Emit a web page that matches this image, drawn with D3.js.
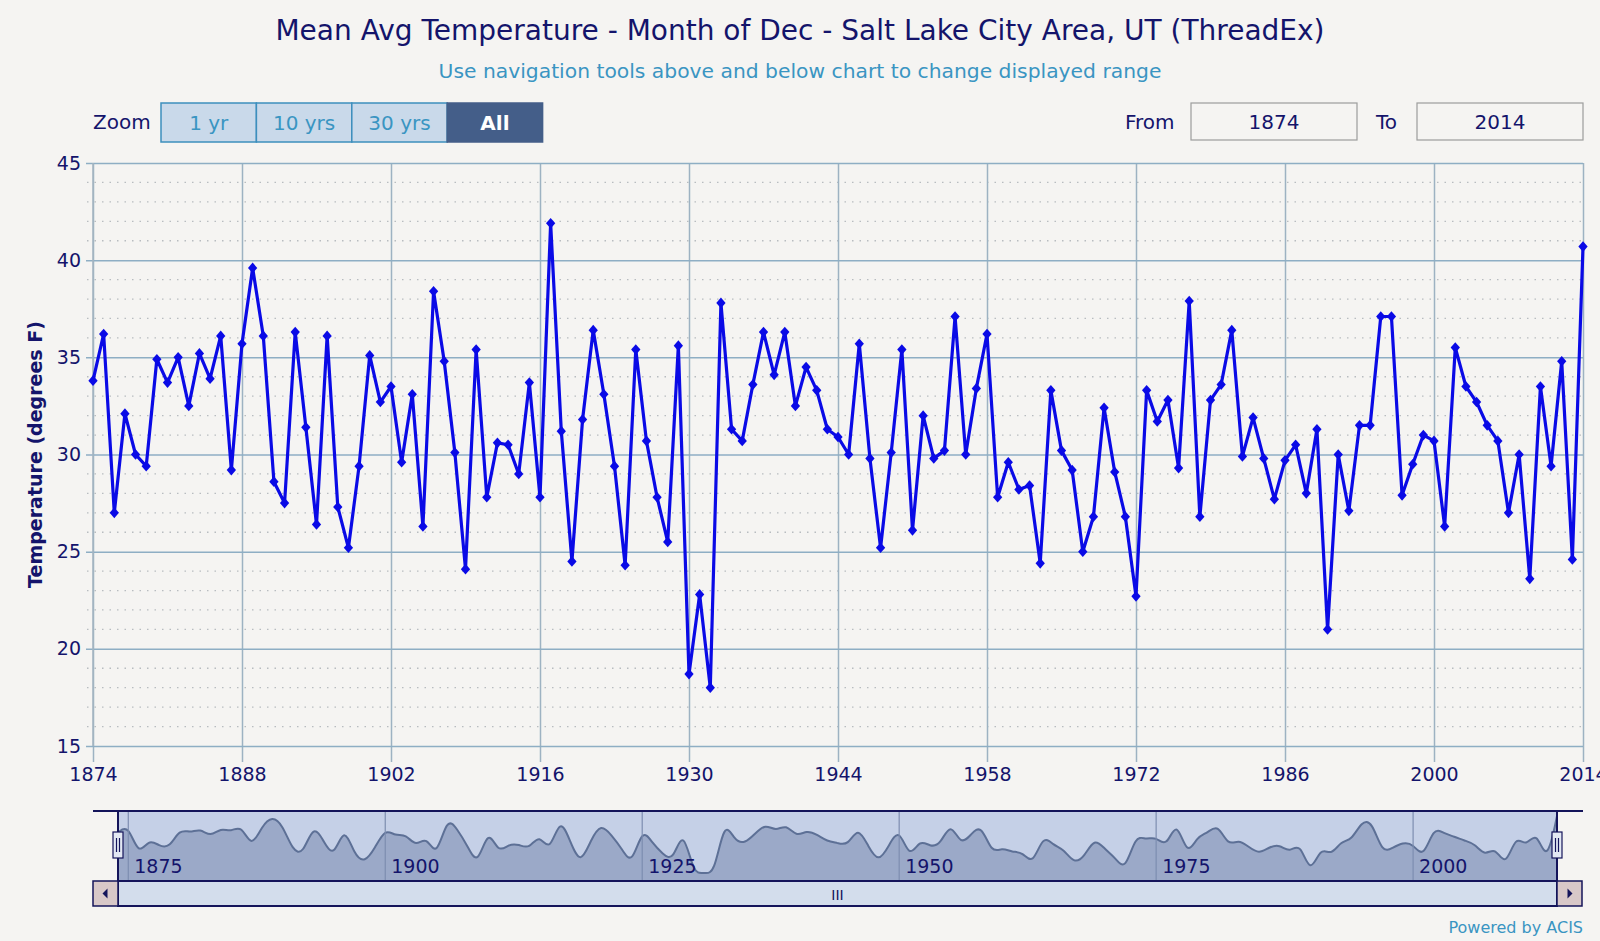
<!DOCTYPE html>
<html>
<head>
<meta charset="utf-8">
<script src="https://cdn.jsdelivr.net/npm/d3@7"></script>
<style>
  html, body { margin: 0; padding: 0; background: #f5f4f2; }
  svg { display: block; font-family: "DejaVu Sans", sans-serif; }
</style>
</head>
<body>
<script>
// Mean Avg Temperature, December, Salt Lake City (ThreadEx) - stock-style chart

const firstYear = 1874;
const lastYear = 2014;
const years = d3.range(firstYear, lastYear + 1);

// degrees F, one per year 1874..2014
const temps = [
  33.8, 36.2, 27.0, 32.1, 30.0, 29.4, 34.9, 33.7, 35.0, 32.5,
  35.2, 33.9, 36.1, 29.2, 35.7, 39.6, 36.1, 28.6, 27.5, 36.3,
  31.4, 26.4, 36.1, 27.3, 25.2, 29.4, 35.1, 32.7, 33.5, 29.6,
  33.1, 26.3, 38.4, 34.8, 30.1, 24.1, 35.4, 27.8, 30.6, 30.5,
  29.0, 33.7, 27.8, 41.9, 31.2, 24.5, 31.8, 36.4, 33.1, 29.4,
  24.3, 35.4, 30.7, 27.8, 25.5, 35.6, 18.7, 22.8, 18.0, 37.8,
  31.3, 30.7, 33.6, 36.3, 34.1, 36.3, 32.5, 34.5, 33.3, 31.3,
  30.9, 30.0, 35.7, 29.8, 25.2, 30.1, 35.4, 26.1, 32.0, 29.8,
  30.2, 37.1, 30.0, 33.4, 36.2, 27.8, 29.6, 28.2, 28.4, 24.4,
  33.3, 30.2, 29.2, 25.0, 26.8, 32.4, 29.1, 26.8, 22.7, 33.3,
  31.7, 32.8, 29.3, 37.9, 26.8, 32.8, 33.6, 36.4, 29.9, 31.9,
  29.8, 27.7, 29.7, 30.5, 28.0, 31.3, 21.0, 30.0, 27.1, 31.5,
  31.5, 37.1, 37.1, 27.9, 29.5, 31.0, 30.7, 26.3, 35.5, 33.5,
  32.7, 31.5, 30.7, 27.0, 30.0, 23.6, 33.5, 29.4, 34.8, 24.6,
  40.7
];

const xTicks = d3.range(1874, 2015, 14);
const yTicks = d3.range(15, 46, 5);
const yMinorTicks = d3.range(15, 46, 1);
const navTicks = [1875, 1900, 1925, 1950, 1975, 2000];
const zoomButtons = ["1 yr", "10 yrs", "30 yrs", "All"];

const data = years.map((yr, i) => ({ year: yr, value: temps[i] }));

const W = 1600, H = 941;
const plot = { left: 93, right: 1583, top: 163, bottom: 746 };
const navBox = { left: 118, right: 1557, top: 811, bottom: 881 };

const navy = "#14146b";
const teal = "#3a95c2";

const svg = d3.select("body").append("svg").attr("width", W).attr("height", H);

svg.append("rect").attr("width", W).attr("height", H).attr("fill", "#f5f4f2");

// titles
svg.append("text")
  .attr("x", 800).attr("y", 40)
  .attr("text-anchor", "middle")
  .attr("font-size", "28px")
  .attr("fill", navy)
  .text("Mean Avg Temperature - Month of Dec - Salt Lake City Area, UT (ThreadEx)");

svg.append("text")
  .attr("x", 800).attr("y", 78)
  .attr("text-anchor", "middle")
  .attr("font-size", "20.3px")
  .attr("fill", teal)
  .text("Use navigation tools above and below chart to change displayed range");

// range selector
svg.append("text")
  .attr("x", 93).attr("y", 129)
  .attr("font-size", "20px")
  .attr("fill", navy)
  .text("Zoom");

const btnW = 95.4;
const btns = svg.append("g").attr("transform", "translate(161,103)");
btns.selectAll("g.btn")
  .data(zoomButtons)
  .enter()
  .append("g")
  .attr("class", "btn")
  .attr("transform", (d, i) => `translate(${i * btnW},0)`)
  .each(function (d, i) {
    const g = d3.select(this);
    const active = i === zoomButtons.length - 1;
    g.append("rect")
      .attr("width", btnW).attr("height", 39)
      .attr("fill", active ? "#445e89" : "#c9d9ea")
      .attr("stroke", active ? "#445e89" : "#3d8fbd")
      .attr("stroke-width", 1.5);
    g.append("text")
      .attr("x", btnW / 2).attr("y", 27)
      .attr("text-anchor", "middle")
      .attr("font-size", "20px")
      .attr("font-weight", active ? "bold" : "normal")
      .attr("fill", active ? "#ffffff" : teal)
      .text(d);
  });

// From / To inputs
function inputBox(label, labelX, boxX, value) {
  svg.append("text")
    .attr("x", labelX).attr("y", 129)
    .attr("font-size", "20px")
    .attr("fill", navy)
    .text(label);
  svg.append("rect")
    .attr("x", boxX).attr("y", 103)
    .attr("width", 166).attr("height", 37)
    .attr("fill", "#f5f4f2")
    .attr("stroke", "#9c9c9c")
    .attr("stroke-width", 1.2);
  svg.append("text")
    .attr("x", boxX + 83).attr("y", 129)
    .attr("text-anchor", "middle")
    .attr("font-size", "20px")
    .attr("fill", navy)
    .text(value);
}
inputBox("From", 1125, 1191, firstYear);
inputBox("To", 1376, 1417, lastYear);

// main plot
const x = d3.scaleLinear().domain([firstYear, lastYear]).range([plot.left, plot.right]);
const y = d3.scaleLinear().domain([15, 45]).range([plot.bottom, plot.top]);

// minor dotted grid
svg.append("g")
  .selectAll("line")
  .data(yMinorTicks.filter((v) => v % 5 !== 0))
  .enter()
  .append("line")
  .attr("x1", plot.left - 6).attr("x2", plot.right)
  .attr("y1", (d) => y(d)).attr("y2", (d) => y(d))
  .attr("stroke", "#b8bcc0")
  .attr("stroke-width", 1.3)
  .attr("stroke-dasharray", "1.5,6");

// vertical grid + x axis ticks
const xAxis = d3.axisBottom(x)
  .tickValues(xTicks)
  .tickSize(-(plot.bottom - plot.top))
  .tickFormat(d3.format("d"));
const gx = svg.append("g")
  .attr("transform", `translate(0,${plot.bottom})`)
  .call(xAxis);
gx.select(".domain").remove();
gx.selectAll(".tick line")
  .attr("y1", 16)
  .attr("stroke", "#9db2c2")
  .attr("stroke-width", 1.5);
gx.selectAll(".tick text")
  .attr("y", 22)
  .attr("dy", "0.71em")
  .attr("font-size", "19px")
  .attr("font-family", "DejaVu Sans, sans-serif")
  .attr("fill", navy);

// horizontal major grid + y axis
const yAxis = d3.axisLeft(y)
  .tickValues(yTicks)
  .tickSize(-(plot.right - plot.left));
const gy = svg.append("g")
  .attr("transform", `translate(${plot.left},0)`)
  .call(yAxis);
gy.select(".domain").remove();
gy.selectAll(".tick line")
  .attr("x1", -7)
  .attr("stroke", "#8eaec4")
  .attr("stroke-width", 1.5);
gy.selectAll(".tick text")
  .attr("x", -12)
  .attr("font-size", "19px")
  .attr("font-family", "DejaVu Sans, sans-serif")
  .attr("fill", navy);

// left axis line
svg.append("line")
  .attr("x1", plot.left).attr("x2", plot.left)
  .attr("y1", plot.top).attr("y2", plot.bottom)
  .attr("stroke", "#a4b4c0")
  .attr("stroke-width", 1.5);

svg.append("text")
  .attr("transform", `translate(42,${(plot.top + plot.bottom) / 2}) rotate(-90)`)
  .attr("text-anchor", "middle")
  .attr("font-size", "19px")
  .attr("font-weight", "bold")
  .attr("fill", navy)
  .text("Temperature (degrees F)");

// series
const line = d3.line().x((d) => x(d.year)).y((d) => y(d.value));
svg.append("path")
  .datum(data)
  .attr("d", line)
  .attr("fill", "none")
  .attr("stroke", "#0a0ae6")
  .attr("stroke-width", 3.2)
  .attr("stroke-linejoin", "round");

const diamond = d3.symbol().type(d3.symbolDiamond2).size(55);
svg.append("g")
  .selectAll("path")
  .data(data)
  .enter()
  .append("path")
  .attr("transform", (d) => `translate(${x(d.year)},${y(d.value)}) scale(1,1.15)`)
  .attr("d", diamond)
  .attr("fill", "#0a0ae6");

// navigator (smoothed overview of the same series)
const xn = d3.scaleLinear().domain([firstYear, lastYear]).range([navBox.left, navBox.right]);
const yn = d3.scaleLinear().domain([21.5, 38.5]).range([navBox.bottom - 5, navBox.top + 5]).clamp(true);

svg.append("rect")
  .attr("x", navBox.left).attr("y", navBox.top)
  .attr("width", navBox.right - navBox.left)
  .attr("height", navBox.bottom - navBox.top)
  .attr("fill", "#c5d0e7");

const navArea = d3.area()
  .curve(d3.curveBasis)
  .x((d) => xn(d.year))
  .y0(navBox.bottom)
  .y1((d) => yn(d.value));
svg.append("path")
  .datum(data)
  .attr("d", navArea)
  .attr("fill", "#9ba9c8");
svg.append("path")
  .datum(data)
  .attr("d", navArea.lineY1())
  .attr("fill", "none")
  .attr("stroke", "#5d7096")
  .attr("stroke-width", 2);

const navGrid = svg.append("g");
navGrid.selectAll("line")
  .data(navTicks)
  .enter()
  .append("line")
  .attr("x1", (d) => xn(d)).attr("x2", (d) => xn(d))
  .attr("y1", navBox.top).attr("y2", navBox.bottom)
  .attr("stroke", "#7d8db0")
  .attr("stroke-width", 1.2);
navGrid.selectAll("text")
  .data(navTicks)
  .enter()
  .append("text")
  .attr("x", (d) => xn(d) + 6)
  .attr("y", 873)
  .attr("font-size", "19px")
  .attr("fill", navy)
  .text((d) => d);

// navigator outline
svg.append("path")
  .attr("d", `M${plot.left},${navBox.top}H${plot.right}M${navBox.left},${navBox.top}V${navBox.bottom}M${navBox.right},${navBox.top}V${navBox.bottom}`)
  .attr("fill", "none")
  .attr("stroke", "#14145a")
  .attr("stroke-width", 2);

// scrollbar
const sb = { top: 881, bottom: 906 };
svg.append("rect")
  .attr("x", navBox.left).attr("y", sb.top)
  .attr("width", navBox.right - navBox.left).attr("height", sb.bottom - sb.top)
  .attr("fill", "#d3ddec")
  .attr("stroke", "#14145a")
  .attr("stroke-width", 2);
[[plot.left, -1], [navBox.right, 1]].forEach(([bx, dir]) => {
  const bw = navBox.left - plot.left;
  svg.append("rect")
    .attr("x", bx).attr("y", sb.top)
    .attr("width", bw).attr("height", sb.bottom - sb.top)
    .attr("fill", "#d8c8c8")
    .attr("stroke", "#14145a")
    .attr("stroke-width", 1.5);
  const cx = bx + bw / 2, cy = (sb.top + sb.bottom) / 2;
  svg.append("path")
    .attr("d", `M${cx + 3 * dir},${cy}L${cx - 2 * dir},${cy - 5}L${cx - 2 * dir},${cy + 5}Z`)
    .attr("fill", "#14145a");
});
svg.append("text")
  .attr("x", (navBox.left + navBox.right) / 2)
  .attr("y", 900)
  .attr("text-anchor", "middle")
  .attr("font-size", "14px")
  .attr("fill", "#14145a")
  .text("III");

// handles
[navBox.left, navBox.right].forEach((hx) => {
  svg.append("rect")
    .attr("x", hx - 5).attr("y", 832)
    .attr("width", 10).attr("height", 26)
    .attr("fill", "#e3e8f3")
    .attr("stroke", "#14145a")
    .attr("stroke-width", 1.2);
  [-1.5, 1.5].forEach((o) => {
    svg.append("line")
      .attr("x1", hx + o).attr("x2", hx + o)
      .attr("y1", 838).attr("y2", 852)
      .attr("stroke", "#14145a")
      .attr("stroke-width", 1.2);
  });
});

svg.append("text")
  .attr("x", plot.right).attr("y", 933)
  .attr("text-anchor", "end")
  .attr("font-size", "16px")
  .attr("fill", teal)
  .text("Powered by ACIS");
</script>
</body>
</html>
